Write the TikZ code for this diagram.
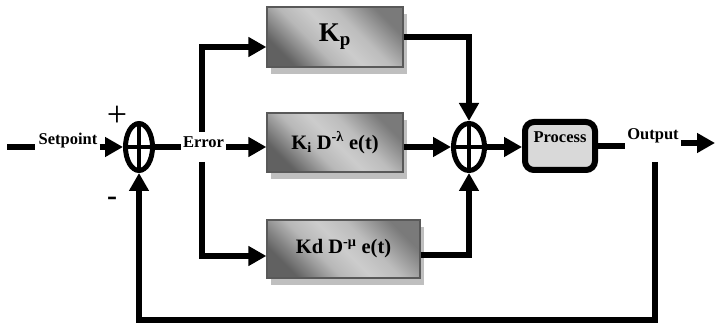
\documentclass[tikz,border=0pt]{standalone}
\usepackage{fontspec}
\setmainfont{Liberation Serif}
\usetikzlibrary{arrows.meta,shapes.geometric,shadows,calc}
\pgfdeclarehorizontalshading{boxshade}{100bp}{color(0bp)=(black!62); color(25bp)=(black!62); color(40bp)=(black!28); color(50bp)=(black!20); color(60bp)=(black!26); color(75bp)=(black!52); color(100bp)=(black!52)}
\begin{document}
\begin{tikzpicture}[x=1pt,y=-1pt,
  conn/.style={line width=6pt},
  arr/.style={line width=6pt,-{Triangle[length=18pt,width=19pt]}},
  bar/.style={line width=4pt, shorten >=1pt, shorten <=1pt},
  sumnode/.style={ellipse, draw, line width=5pt, inner sep=0pt},
  gainbox/.style={draw=black!65, line width=1.3pt, shading=boxshade, shading angle=45,
    drop shadow={shadow xshift=4pt, shadow yshift=-7pt, fill=black!25, opacity=1},
    font=\bfseries\fontsize{20.5}{24}\selectfont, inner sep=0pt},
  lbl/.style={font=\bfseries\fontsize{16.5}{19}\selectfont, inner sep=2pt},
  signs/.style={font=\fontsize{36}{40}\selectfont, inner sep=0pt},
  procbox/.style={draw, line width=6pt, rounded corners=9pt, fill=black!15,
    font=\bfseries\fontsize{16.5}{19}\selectfont, inner sep=0pt}]
\useasboundingbox (0,0) rectangle (716,326);

% input
\coordinate (in0) at (7,147);
\coordinate (in1) at (35,147);
\draw[conn] (in0) -- (in1);
\node[lbl] (sp) at (68,141) {Setpoint};

% first summing junction
\node[sumnode, minimum width=27pt, minimum height=47pt] (s1) at (139,147) {};
\draw[bar] (s1.north) -- (s1.south);
\draw[bar] (s1.west) -- (s1.east);
\node[signs] (plus) at (117,116) {+};
\node[signs, font=\bfseries\fontsize{30}{34}\selectfont] (minus) at (112,201) {-};
\draw[arr] (sp.east |- s1.west) -- (s1.west);

% gain blocks
\node[gainbox, minimum width=136pt, minimum height=60pt, font=\bfseries\fontsize{27}{30}\selectfont] (kp) at (335,37) {K\textsubscript{p}};
\node[gainbox, minimum width=136pt, minimum height=59pt] (ki) at (335,142.5) {K\textsubscript{i} D\textsuperscript{-λ} e(t)};
\node[gainbox, minimum width=153pt, minimum height=58pt] (kd) at (343.5,249) {Kd D\textsuperscript{-μ} e(t)};

% error and branches
\node[lbl] (err) at (203.5,142) {Error};
\draw[conn] (s1.east) -- (s1.east -| err.west);
\draw[arr] (err.east |- s1.east) -- (ki.west |- s1.east);
\coordinate (bt) at (202,132);
\coordinate (bb) at (202,162);
\draw[arr] (bt) |- ([yshift=-10pt]kp.west);
\draw[arr] (bb) |- ([yshift=-7pt]kd.west);

% second summing junction
\node[sumnode, minimum width=31pt, minimum height=47pt] (s2) at (469,147) {};
\draw[bar] (s2.north) -- (s2.south);
\draw[bar] (s2.west) -- (s2.east);
\draw[arr] (kp.east) -| (s2.north);
\draw[arr] (ki.east |- s2.west) -- (s2.west);
\draw[arr] ([yshift=-6pt]kd.east) -| (s2.south);

% process
\node[procbox, minimum width=70pt, minimum height=48pt] (proc) at (560,146) {\raisebox{18pt}{Process}};
\draw[arr] (s2.east) -- (s2.east -| proc.west);

% output
\node[lbl] (out) at (653,136) {Output};
\draw[conn] (proc.east) -- (proc.east -| out.west);
\coordinate (oend) at (715,143);
\draw[arr] (out.east |- oend) -- (oend);

% feedback
\coordinate (fb0) at (655,162);
\coordinate (fb1) at (655,320);
\draw[arr] (fb0) -- (fb1) -| (s1.south);
\end{tikzpicture}
\end{document}
